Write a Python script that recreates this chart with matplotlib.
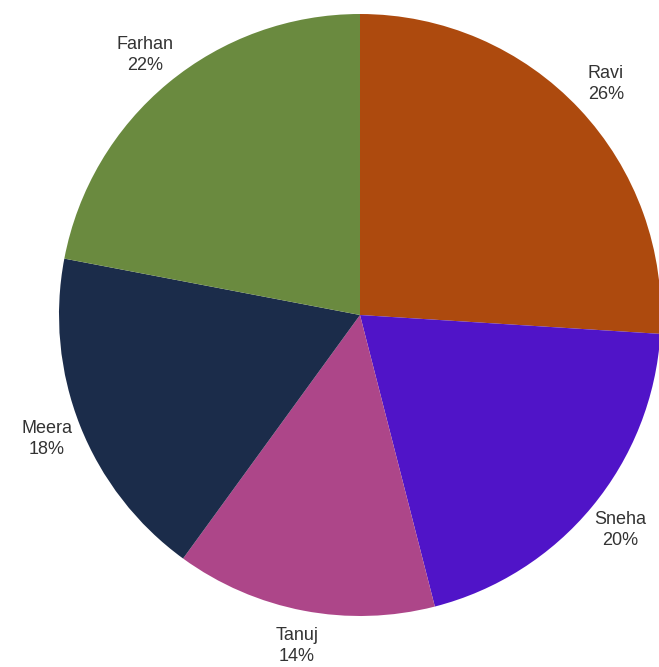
import matplotlib
matplotlib.use("Agg")
import matplotlib.pyplot as plt

names  = ["Ravi", "Sneha", "Tanuj", "Meera", "Farhan"]
shares = [26, 20, 14, 18, 22]
colors = ["#ad4a0e", "#5014c8", "#ad4689", "#1b2c4a", "#6a8a3f"]

plt.rcParams["font.family"] = ["Liberation Sans", "DejaVu Sans"]

W, H = 659, 667
cx, cy, r = 360, 315, 301

fig = plt.figure(figsize=(W / 100, H / 100), dpi=100)
ax = fig.add_axes([0, 0, 1, 1])

labels = [f"{n}\n{s}%" for n, s in zip(names, shares)]
wedges, texts = ax.pie(
    shares,
    labels=labels,
    colors=colors,
    startangle=90,
    counterclock=False,
    labeldistance=1.12,
    textprops={"fontsize": 13, "color": "#333333", "linespacing": 1.3},
)
for t in texts:
    t.set_horizontalalignment("center")
    t.set_verticalalignment("center")
    t.set_multialignment("center")

ax.set_aspect("auto")
ax.set_xlim(-cx / r, (W - cx) / r)
ax.set_ylim((cy - H) / r, cy / r)
ax.axis("off")

fig.savefig("out.png", dpi=100)
